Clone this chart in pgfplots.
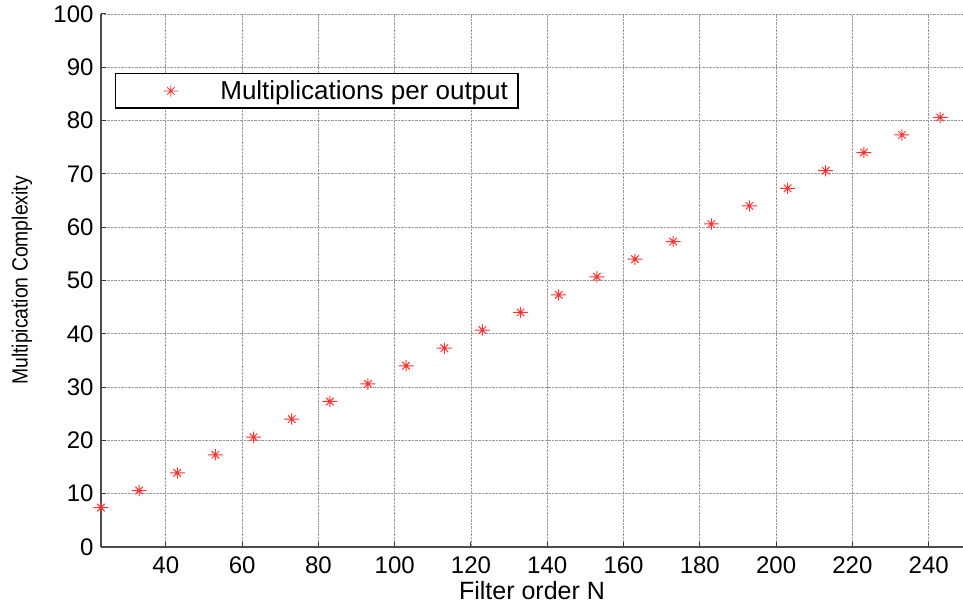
\documentclass[border=0pt]{standalone}
\usepackage{fontspec}
\setmainfont{Liberation Sans}
\usepackage{pgfplots}
\pgfplotsset{compat=1.18}
\usetikzlibrary{calc}

% MATLAB style '*' marker: wide horizontal arm, shorter vertical and diagonal arms
\pgfdeclareplotmark{mstar}{%
  \pgfpathmoveto{\pgfqpoint{-\pgfplotmarksize}{0pt}}%
  \pgfpathlineto{\pgfqpoint{\pgfplotmarksize}{0pt}}%
  \pgfpathmoveto{\pgfqpoint{0pt}{-0.75\pgfplotmarksize}}%
  \pgfpathlineto{\pgfqpoint{0pt}{0.75\pgfplotmarksize}}%
  \pgfpathmoveto{\pgfqpoint{-0.5\pgfplotmarksize}{-0.5\pgfplotmarksize}}%
  \pgfpathlineto{\pgfqpoint{0.5\pgfplotmarksize}{0.5\pgfplotmarksize}}%
  \pgfpathmoveto{\pgfqpoint{-0.5\pgfplotmarksize}{0.5\pgfplotmarksize}}%
  \pgfpathlineto{\pgfqpoint{0.5\pgfplotmarksize}{-0.5\pgfplotmarksize}}%
  \pgfusepathqstroke
}

\begin{document}
\begin{tikzpicture}
\begin{axis}[
    name=ax,
    scale only axis,
    width=862pt, height=533pt,
    xmin=23, xmax=249,
    ymin=0, ymax=100,
    xtick={40,60,...,240},
    ytick={0,10,...,100},
    axis x line*=bottom,
    axis y line*=left,
    axis line style={-, black!70, line width=1.2pt},
    tick align=inside,
    major tick length=5pt,
    tick style={black!80, line width=1pt},
    grid=major,
    grid style={densely dotted, gray!80, line width=0.8pt},
    /pgf/number format/assume math mode=true,
    tick label style={font=\fontsize{24}{26}\selectfont},
    xticklabel style={yshift=-6pt},
    yticklabel style={xshift=-4pt},
    xlabel={Filter order N},
    ylabel={Multipication Complexity},
    xlabel style={font=\fontsize{25}{27}\selectfont,
        at={(axis description cs:0.5,-0.081)}, anchor=center},
    ylabel style={font=\fontsize{22}{24}\selectfont, xscale=0.88,
        at={(axis description cs:-0.0916,0.5)}, anchor=center},
    legend style={at={(rel axis cs:0.016,0.889)}, anchor=north west,
        font=\fontsize{26}{28}\selectfont, draw=black, line width=1.2pt,
        inner xsep=8pt, inner ysep=5pt, cells={anchor=west}},
    legend cell align=left,
    legend image code/.code={%
        \path (0pt,0pt);
        \draw[#1, line width=0.8pt] plot coordinates {(1.65cm,0cm)};},
]
\addplot[only marks, mark=mstar, mark size=7.5pt, red!80!white, line width=1pt] coordinates {
    (23,7.4) (33,10.6) (43,13.9) (53,17.3) (63,20.6) (73,24.0) (83,27.3)
    (93,30.6) (103,34.0) (113,37.3) (123,40.7) (133,44.0) (143,47.3)
    (153,50.7) (163,54.0) (173,57.3) (183,60.6) (193,64.0) (203,67.3)
    (213,70.6) (223,74.0) (233,77.3) (243,80.6)
};
\addlegendentry{\hspace*{40pt}Multiplications per output}
\end{axis}
\pgfresetboundingbox
\path ($(ax.south west)+(-101pt,-60pt)$) rectangle ($(ax.north east)+(0pt,14pt)$);
\end{tikzpicture}
\end{document}
